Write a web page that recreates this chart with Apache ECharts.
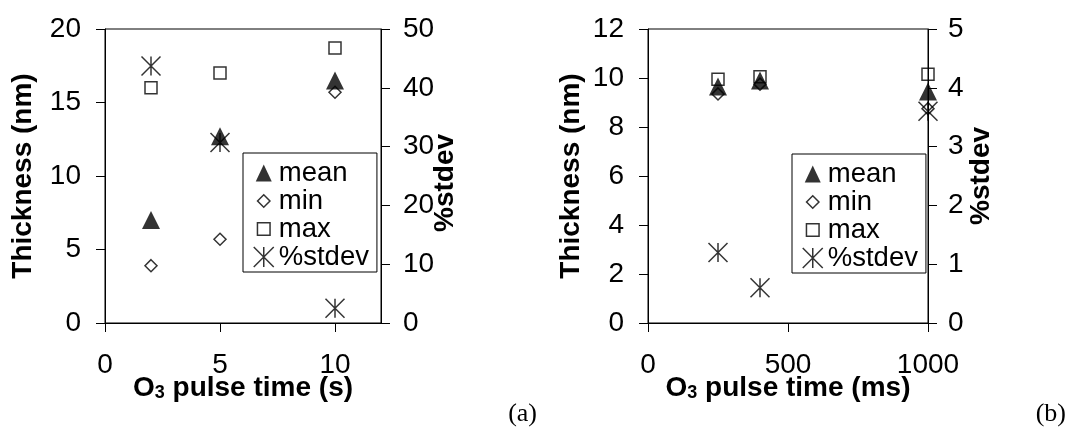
<!DOCTYPE html>
<html>
<head>
<meta charset="utf-8">
<script src="https://cdn.jsdelivr.net/npm/echarts@6/dist/echarts.min.js"></script>
<style>
  html, body { margin: 0; padding: 0; background: #fff; }
  #chart { width: 1068px; height: 429px; }
</style>
</head>
<body>
<div id="chart"></div>
<script>
// ---------- Data ----------
const seriesNames = ['mean', 'min', 'max', '%stdev'];

// Panel (a): O3 pulse time in s
const timeA = [2, 5, 10];
const meanA = [7.0, 12.7, 16.5];
const minA = [3.9, 5.7, 15.7];
const maxA = [16.0, 17.0, 18.7];
const stdevA = [43.7, 30.7, 2.5];

// Panel (b): O3 pulse time in ms
const timeB = [250, 400, 1000];
const meanB = [9.65, 9.9, 9.45];
const minB = [9.35, 9.75, 8.75];
const maxB = [9.95, 10.05, 10.15];
const stdevB = [1.2, 0.6, 3.6];

// Tick labels
const xTicksA = [0, 5, 10];
const yTicksA = [0, 5, 10, 15, 20];
const y2TicksA = [0, 10, 20, 30, 40, 50];
const xTicksB = [0, 500, 1000];
const yTicksB = [0, 2, 4, 6, 8, 10, 12];
const y2TicksB = [0, 1, 2, 3, 4, 5];

// ---------- Styling ----------
const FONT = "'Liberation Sans', Arial, Helvetica, sans-serif";
const BLACK = '#000';
const STAR = 'path://M0,0L20,20M20,0L0,20M10,0L10,20';

const pair = (xs, ys) => xs.map((x, i) => [x, ys[i]]);

function makeSeries(xi, yi, yi2, xs, mean, mn, mx, sd) {
  return [
    { name: 'max', type: 'scatter', xAxisIndex: xi, yAxisIndex: yi, data: pair(xs, mx),
      symbol: 'rect', symbolSize: 12, z: 2,
      itemStyle: { color: 'transparent', borderColor: BLACK, borderWidth: 1.5 } },
    { name: 'min', type: 'scatter', xAxisIndex: xi, yAxisIndex: yi, data: pair(xs, mn),
      symbol: 'diamond', symbolSize: 12, z: 3,
      itemStyle: { color: 'transparent', borderColor: BLACK, borderWidth: 1.5 } },
    { name: 'mean', type: 'scatter', xAxisIndex: xi, yAxisIndex: yi, data: pair(xs, mean),
      symbol: 'triangle', symbolSize: 18, z: 4,
      itemStyle: { color: BLACK, borderColor: BLACK, borderWidth: 0 } },
    { name: '%stdev', type: 'scatter', xAxisIndex: xi, yAxisIndex: yi2, data: pair(xs, sd),
      symbol: STAR, symbolSize: 19, z: 5,
      itemStyle: { color: 'transparent', borderColor: BLACK, borderWidth: 1.5 } }
  ];
}

const labelStyle = { color: BLACK, fontSize: 28, fontFamily: FONT };
const nameStyle = { color: BLACK, fontSize: 28, fontWeight: 'bold', fontFamily: FONT, lineHeight: 28 };
const plain = v => String(v);

function xAxisDef(grid, min, max, ticks, name) {
  return {
    type: 'value', gridIndex: grid, min: min, max: max,
    name: name, nameLocation: 'middle', nameGap: 51, nameMoveOverlap: false,
    nameTextStyle: Object.assign({}, nameStyle, {
      rich: { sub: { fontSize: 18, fontWeight: 'bold', fontFamily: FONT, color: BLACK,
                     verticalAlign: 'bottom', lineHeight: 8 } }
    }),
    axisLine: { show: true, onZero: false, lineStyle: { color: BLACK, width: 1 } },
    axisTick: { show: true, inside: false, length: 9, customValues: ticks, lineStyle: { color: BLACK, width: 1 } },
    axisLabel: Object.assign({ margin: 28, customValues: ticks, formatter: plain }, labelStyle),
    splitLine: { show: false }
  };
}

function yAxisDef(grid, pos, min, max, ticks, name, nameGap, margin, namePad) {
  return {
    type: 'value', gridIndex: grid, position: pos, min: min, max: max,
    name: name, nameLocation: 'middle', nameGap: nameGap, nameMoveOverlap: false,
    nameTextStyle: Object.assign({}, nameStyle, namePad ? { padding: namePad } : {}),
    axisLine: { show: true, onZero: false, lineStyle: { color: BLACK, width: 1 } },
    axisTick: { show: true, inside: false, length: 9, customValues: ticks, lineStyle: { color: BLACK, width: 1 } },
    axisLabel: Object.assign({ margin: margin, customValues: ticks, formatter: plain }, labelStyle),
    splitLine: { show: false }
  };
}

const legendIcons = {
  'mean':   'path://M-10,-10M10,10M0,-8.5L8,8.5L-8,8.5Z',
  'min':    'path://M-10,-10M10,10M0,-6.2L6.2,0L0,6.2L-6.2,0Z',
  'max':    'path://M-10,-10M10,10M-6.3,-6.3L6.3,-6.3L6.3,6.3L-6.3,6.3Z',
  '%stdev': 'path://M-10,-10L10,10M10,-10L-10,10M0,-10L0,10'
};
const legendItemStyles = {
  'mean':   { color: BLACK, borderColor: BLACK, borderWidth: 0 },
  'min':    { color: 'transparent', borderColor: BLACK, borderWidth: 1.5 },
  'max':    { color: 'transparent', borderColor: BLACK, borderWidth: 1.5 },
  '%stdev': { color: 'transparent', borderColor: BLACK, borderWidth: 1.5 }
};

function legendDef(left, top) {
  return {
    orient: 'vertical', left: left, top: top,
    padding: [6, 8, 1, 10], itemGap: 0, itemWidth: 20, itemHeight: 20,
    borderColor: BLACK, borderWidth: 1, backgroundColor: '#fff',
    selectedMode: false,
    textStyle: { color: BLACK, fontSize: 27.5, fontFamily: FONT, lineHeight: 27.3 },
    data: seriesNames.map(n => ({ name: n, icon: legendIcons[n], itemStyle: legendItemStyles[n] }))
  };
}

const option = {
  animation: false,
  backgroundColor: '#fff',
  grid: [
    { left: 105, top: 29, width: 276, height: 294, show: true, borderColor: BLACK, borderWidth: 1, backgroundColor: 'transparent' },
    { left: 648, top: 29, width: 280, height: 294, show: true, borderColor: BLACK, borderWidth: 1, backgroundColor: 'transparent' }
  ],
  xAxis: [
    xAxisDef(0, 0, 12, xTicksA, 'O{sub|3} pulse time (s)'),
    xAxisDef(1, 0, 1000, xTicksB, 'O{sub|3} pulse time (ms)')
  ],
  yAxis: [
    yAxisDef(0, 'left', 0, 20, yTicksA, 'Thickness (nm)', 68, 24),
    yAxisDef(0, 'right', 0, 50, y2TicksA, '%stdev', 50, 22, [0, 14, 0, 0]),
    yAxisDef(1, 'left', 0, 12, yTicksB, 'Thickness (nm)', 63, 24),
    yAxisDef(1, 'right', 0, 5, y2TicksB, '%stdev', 39, 20)
  ],
  legend: [legendDef(243, 153), legendDef(792, 154)],
  series: [].concat(
    makeSeries(0, 0, 1, timeA, meanA, minA, maxA, stdevA),
    makeSeries(1, 2, 3, timeB, meanB, minB, maxB, stdevB)
  ),
  graphic: [
    { type: 'text', right: 1068 - 537, top: 401,
      style: { text: '(a)', fill: BLACK, font: "26px 'Liberation Serif', 'Times New Roman', serif" } },
    { type: 'text', right: 2, top: 401,
      style: { text: '(b)', fill: BLACK, font: "26px 'Liberation Serif', 'Times New Roman', serif" } }
  ]
};

const chart = echarts.init(document.getElementById('chart'), null, { renderer: 'canvas' });
chart.setOption(option);
</script>
</body>
</html>
